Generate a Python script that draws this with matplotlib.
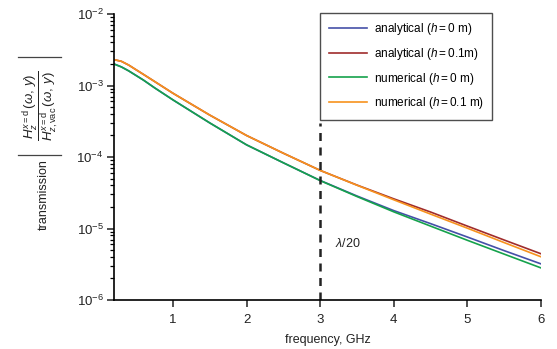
import matplotlib
matplotlib.use("Agg")
import matplotlib.pyplot as plt
from matplotlib.lines import Line2D

plt.rcParams["font.family"] = ["Liberation Sans", "DejaVu Sans"]
plt.rcParams["mathtext.fontset"] = "custom"
plt.rcParams["mathtext.rm"] = "Liberation Sans"
plt.rcParams["mathtext.it"] = "Liberation Sans:italic"
plt.rcParams["mathtext.bf"] = "Liberation Sans:bold"

# frequency grid, GHz
freq = [0.2, 0.3, 0.4, 0.5, 0.6, 0.75, 1.0, 1.5, 2.0, 2.5, 3.0, 3.5, 4.0, 4.5, 5.0, 5.5, 6.0]

# transmission values
num_h0 = [2.0e-3, 1.82e-3, 1.60e-3, 1.38e-3, 1.19e-3, 9.3e-4, 6.3e-4, 3.0e-4, 1.48e-4,
          8.3e-5, 4.68e-5, 2.8e-5, 1.71e-5, 1.08e-5, 6.84e-6, 4.38e-6, 2.81e-6]
ana_h0 = [2.0e-3, 1.82e-3, 1.60e-3, 1.38e-3, 1.19e-3, 9.3e-4, 6.3e-4, 3.0e-4, 1.48e-4,
          8.3e-5, 4.7e-5, 2.85e-5, 1.78e-5, 1.17e-5, 7.6e-6, 4.9e-6, 3.2e-6]
num_h01 = [2.3e-3, 2.18e-3, 1.93e-3, 1.66e-3, 1.43e-3, 1.14e-3, 7.8e-4, 3.86e-4, 2.0e-4,
           1.13e-4, 6.5e-5, 4.03e-5, 2.52e-5, 1.59e-5, 1.01e-5, 6.35e-6, 4.02e-6]
ana_h01 = [2.3e-3, 2.18e-3, 1.93e-3, 1.66e-3, 1.43e-3, 1.14e-3, 7.8e-4, 3.86e-4, 2.0e-4,
           1.13e-4, 6.5e-5, 4.05e-5, 2.6e-5, 1.70e-5, 1.08e-5, 6.9e-6, 4.43e-6]

labels = [r"analytical ($h = 0$ m)", r"analytical ($h = 0.1$m)",
          r"numerical ($h = 0$ m)", r"numerical ($h = 0.1$ m)"]
colors = ["#4550a8", "#a02c2c", "#15a24c", "#f7921e"]

W, H = 557, 349
fig = plt.figure(figsize=(W / 100, H / 100), dpi=100)
ax = fig.add_axes([114 / W, 1 - 300 / H, 427 / W, 286 / H])

for ys, lab, c in zip([ana_h0, ana_h01, num_h0, num_h01], labels, colors):
    ax.plot(freq, ys, color=c, lw=1.2, label=lab)

ax.set_yscale("log")
ax.set_xlim(0.2, 6)
ax.set_ylim(1e-6, 1e-2)
ax.set_xticks([1, 2, 3, 4, 5, 6])

ax.vlines(3, 1e-6, 3.0e-4, colors="#222222", linestyles=(0, (3.2, 2.6)), lw=1.8)
ax.text(3.2, 6.1e-6, r"$\lambda$/20", fontsize=9, va="center", ha="left", color="#222222")

for s in ["top", "right"]:
    ax.spines[s].set_visible(False)
for s in ["left", "bottom"]:
    ax.spines[s].set_linewidth(1.2)
ax.tick_params(which="major", direction="out", length=5, width=1.1,
               labelsize=9.5, colors="#222222")
ax.tick_params(which="minor", direction="out", length=3, width=0.9)
ax.tick_params(axis="x", pad=5)
ax.tick_params(axis="y", pad=2.5)

ax.set_xlabel("frequency, GHz", fontsize=9, color="#222222", labelpad=6)

# y label: word plus the ratio, drawn as rotated texts with thin abs bars
fig.text(44 / W, 1 - 195 / H, "transmission", rotation=90, fontsize=9,
         ha="center", va="center", color="#222222")
fig.text(40 / W, 1 - 106 / H,
         r"$\dfrac{H_z^{x=\mathrm{d}}\,(\omega,\, y)}"
         r"{H_{z,\mathrm{vac}}^{x=\mathrm{d}}\,(\omega,\, y)}$",
         rotation=90, fontsize=9.5, ha="center", va="center", color="#222222")
for yb in (57, 155):
    fig.add_artist(Line2D([18 / W, 61 / W], [1 - yb / H, 1 - yb / H],
                          color="#444444", lw=0.9))

leg = ax.legend(loc="upper right", bbox_to_anchor=(0.885, 1.005), borderaxespad=0,
                fontsize=8.5, frameon=True, fancybox=False, handlelength=3.2,
                labelspacing=0.75, borderpad=0.7, handletextpad=0.6)
leg.get_frame().set_edgecolor("#222222")
leg.get_frame().set_linewidth(1.0)

fig.savefig("out.png", dpi=100)
